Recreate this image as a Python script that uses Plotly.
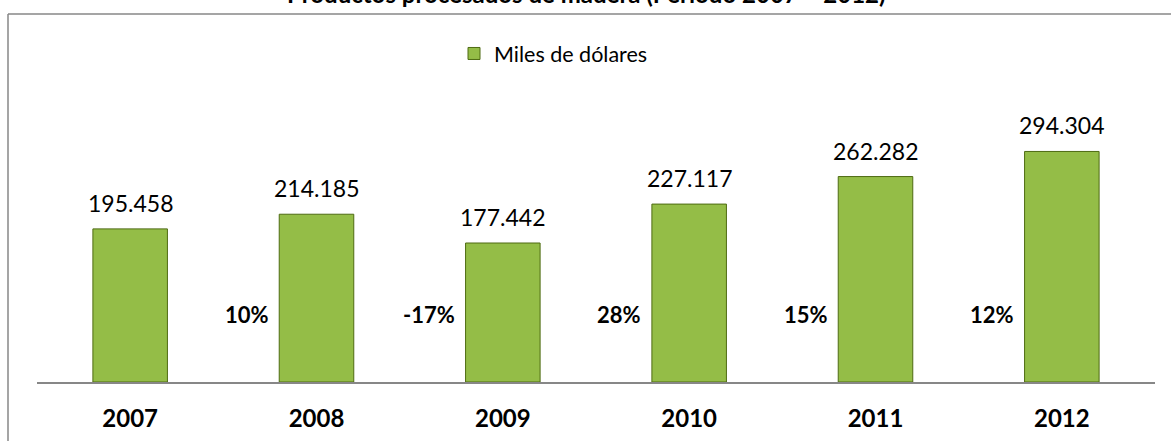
import plotly.graph_objects as go

years = ["2007", "2008", "2009", "2010", "2011", "2012"]
values = [195458, 214185, 177442, 227117, 262282, 294304]
growth = [None, 10, -17, 28, 15, 12]
series_name = "Miles de dólares"
title_text = "Productos procesados de madera (Período 2007 – 2012)"

FONT = "Lato, 'Open Sans', sans-serif"
W, H = 1171, 441
ML, MR, MT, MB = 37, 16, 100, 59

fig = go.Figure()
fig.add_trace(go.Bar(
    x=years, y=values, name=series_name,
    width=0.4,
    marker=dict(color="#94BD47", line=dict(color="#4E6B12", width=1)),
    showlegend=True,
))

ann = []
for i, v in enumerate(values):
    ann.append(dict(x=i, y=v, xref="x", yref="y", text=f"{v:,}".replace(",", "."),
                    showarrow=False, yanchor="bottom", yshift=10,
                    font=dict(family=FONT, size=23, color="#000000")))
for i, g in enumerate(growth):
    if g is None:
        continue
    ann.append(dict(x=i, y=86500, xref="x", yref="y", text=f"<b>{g}%</b>",
                    showarrow=False, xanchor="right", yanchor="middle", xshift=-46,
                    font=dict(family=FONT, size=22, color="#000000")))
ann.append(dict(x=0.5, y=1, xref="paper", yref="paper", text=f"<b>{title_text}</b>",
                showarrow=False, xanchor="center", yanchor="bottom", yshift=90,
                xshift=-10,
                font=dict(family=FONT, size=24, color="#000000")))

plot_w = W - ML - MR
plot_h = H - MT - MB
lx = (8 - ML) / plot_w
ty = 1 + (MT - 14) / plot_h
shapes = [
    dict(type="line", xref="paper", yref="paper", x0=lx, x1=1.2, y0=ty, y1=ty,
         line=dict(color="#878787", width=1.5)),
    dict(type="line", xref="paper", yref="paper", x0=lx, x1=lx, y0=ty, y1=-0.5,
         line=dict(color="#878787", width=1.5)),
]

fig.update_layout(
    width=W, height=H,
    margin=dict(l=ML, r=MR, t=MT, b=MB, autoexpand=False),
    paper_bgcolor="white", plot_bgcolor="white",
    font=dict(family=FONT, color="#000000"),
    annotations=ann, shapes=shapes,
    legend=dict(orientation="h", x=(454 - ML) / plot_w, xanchor="left",
                y=1 + (MT - 33) / plot_h, yanchor="top",
                font=dict(family=FONT, size=21.5, color="#000000"),
                bgcolor="rgba(0,0,0,0)"),
    bargap=0.6,
)
fig.update_xaxes(type="category", range=[-0.5, len(years) - 0.5], automargin=False,
                 showline=True, linecolor="#878787", linewidth=1.5,
                 ticks="", showgrid=False, ticklabelstandoff=14,
                 tickfont=dict(family=FONT, size=24, color="#000000", weight="bold"))
fig.update_yaxes(visible=False, range=[0, 360000], showgrid=False, zeroline=False,
                 automargin=False)

fig.write_html("out.html", config={"displayModeBar": False},
               post_script="document.body.style.margin='0';document.body.style.padding='0';")
